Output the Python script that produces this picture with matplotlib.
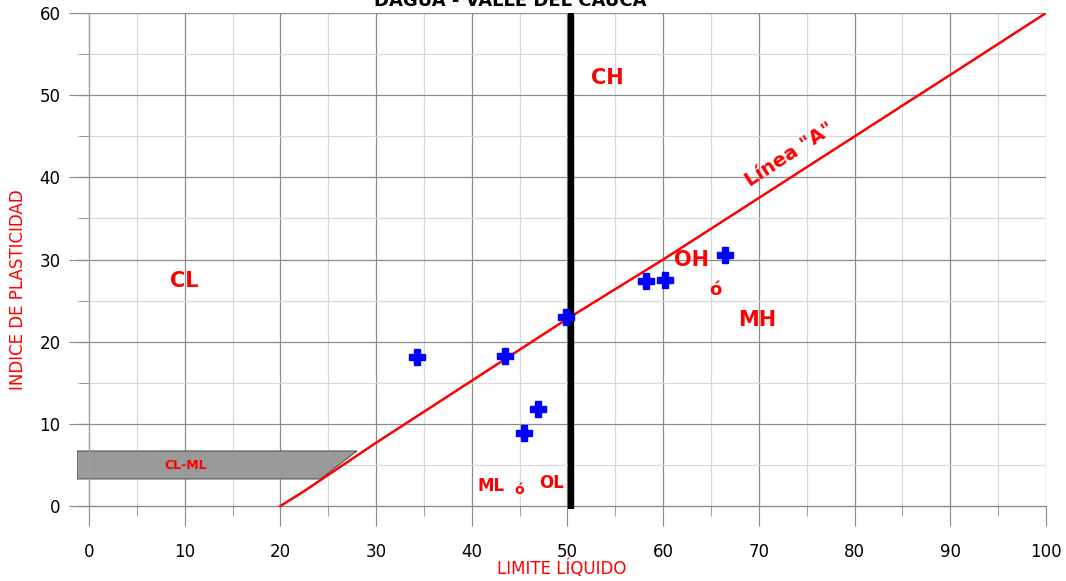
import numpy as np
import matplotlib.pyplot as plt
from matplotlib.patches import Polygon
from matplotlib.ticker import MultipleLocator

# Datos de los ensayos (LL, IP)
limite_liquido = [34.3, 43.5, 45.5, 46.9, 49.8, 58.2, 60.2, 66.5]
indice_plasticidad = [18.1, 18.2, 8.9, 11.8, 23.0, 27.4, 27.5, 30.6]

# Linea "A"
linea_a_x = [20, 22.4, 30, 50, 60, 91.5, 100]
linea_a_y = [0, 1.75, 7.7, 22.8, 30.0, 53.6, 60]

# Zona CL-ML
clml_x = [-1.25, 28.0, 24.2, -1.25]
clml_y = [6.7, 6.7, 3.3, 3.3]

# Linea B (LL = 50)
linea_b_x = [50.4, 50.4]
linea_b_y = [-0.2, 59.8]

fig = plt.figure(figsize=(10.66, 5.81), dpi=100)
ax = fig.add_axes([77/1066, 1 - 508.5/581, (1046 - 77)/1066, (508.5 - 13)/581])
ax.set_xlim(-1.25, 100)
ax.set_ylim(-0.3, 60)

ax.xaxis.set_major_locator(MultipleLocator(10))
ax.xaxis.set_minor_locator(MultipleLocator(5))
ax.yaxis.set_major_locator(MultipleLocator(10))
ax.yaxis.set_minor_locator(MultipleLocator(5))
ax.grid(which='major', color='#8c8c8c', lw=0.9)
ax.grid(which='minor', color='#d9d9d9', lw=0.9)
ax.set_axisbelow(True)

for s in ['top', 'right']:
    ax.spines[s].set_visible(False)
ax.spines['left'].set_position(('data', 0))
ax.spines['bottom'].set_position(('data', 0))
ax.spines['left'].set_color('#a0a0a0')
ax.spines['bottom'].set_color('#8c8c8c')
ax.tick_params(which='major', length=14.4, color='#8c8c8c', labelsize=12, pad=6)
ax.tick_params(which='minor', length=7.2, color='#8c8c8c')
ax.tick_params(axis='x', which='major', pad=12)

ax.add_patch(Polygon(list(zip(clml_x, clml_y)), closed=True, facecolor='#9a9a9a',
                     edgecolor='#555555', lw=0.8, zorder=2))
ax.text(10.1, 4.9, 'CL-ML', color='red', fontsize=9, fontweight='bold',
        ha='center', va='center', zorder=3)

ax.plot(linea_a_x, linea_a_y, color='red', lw=1.8, zorder=3)
ax.plot(linea_b_x, linea_b_y, color='black', lw=4.6, solid_capstyle='round', zorder=4)
ax.plot(limite_liquido, indice_plasticidad, ls='none', marker='P', ms=11,
        color='blue', mec='blue', zorder=5)

rojo = dict(color='red', fontweight='bold', ha='center', va='center')
ax.text(54.2, 52.1, 'CH', fontsize=15, **rojo)
ax.text(10.0, 27.4, 'CL', fontsize=15, **rojo)
ax.text(63.0, 30.0, 'OH', fontsize=15, **rojo)
ax.text(65.5, 26.3, 'ó', fontsize=13, **rojo)
ax.text(69.8, 22.6, 'MH', fontsize=15, **rojo)
ax.text(42.0, 2.4, 'ML', fontsize=12, **rojo)
ax.text(45.0, 2.0, 'ó', fontsize=10, **rojo)
ax.text(48.3, 2.8, 'OL', fontsize=12, **rojo)
ax.text(73.2, 42.8, 'Línea "A"', fontsize=14, rotation=33, rotation_mode='anchor', **rojo)

fig.text(510/1066, 1 - 1/581, 'DAGUA - VALLE DEL CAUCA', fontsize=13,
         fontweight='bold', ha='center', va='center')
fig.text(562/1066, 1 - 569/581, 'LIMITE LÍQUIDO', color='red', fontsize=12,
         ha='center', va='center')
fig.text(18/1066, 1 - 290/581, 'INDICE DE PLASTICIDAD', color='red', fontsize=12,
         ha='center', va='center', rotation=90)

fig.savefig('out.png', dpi=100)
